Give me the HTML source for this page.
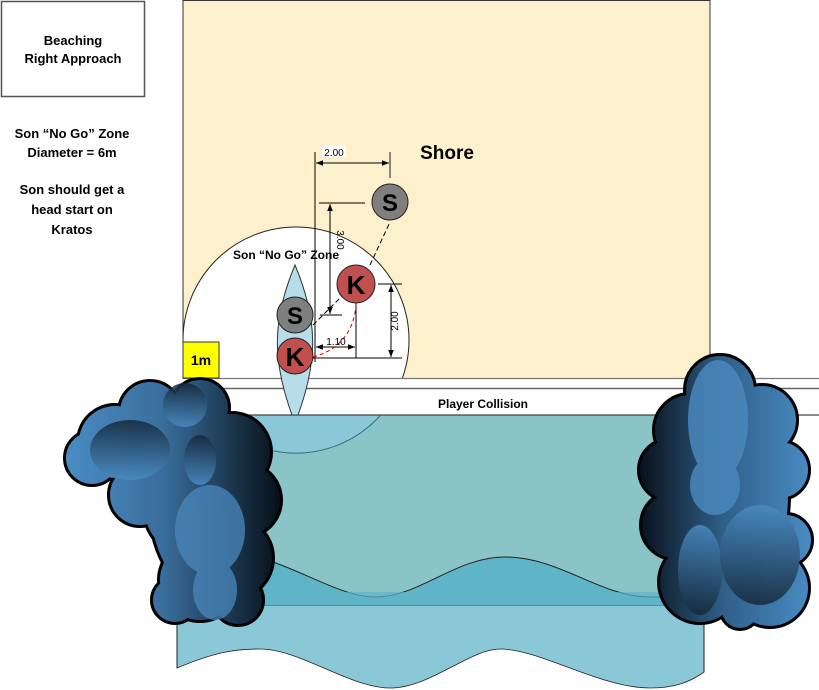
<!DOCTYPE html>
<html><head><meta charset="utf-8"><style>
html,body{margin:0;padding:0;background:#fff;width:819px;height:690px;overflow:hidden}
svg{display:block}
text{font-family:"Liberation Sans",sans-serif;font-weight:bold;fill:#000}
.n{font-weight:normal}
</style></head><body>
<svg width="819" height="690" viewBox="0 0 819 690" xmlns="http://www.w3.org/2000/svg">
<defs>
<linearGradient id="gl" gradientUnits="userSpaceOnUse" x1="65" y1="0" x2="282" y2="0"><stop offset="0" stop-color="#4a8cc4"/><stop offset="0.45" stop-color="#3a6e9c"/><stop offset="1" stop-color="#060e16"/></linearGradient>
<linearGradient id="gr" gradientUnits="userSpaceOnUse" x1="636" y1="0" x2="813" y2="0"><stop offset="0" stop-color="#060e16"/><stop offset="0.5" stop-color="#30608a"/><stop offset="1" stop-color="#4a8cc4"/></linearGradient>
<linearGradient id="gd" x1="0" y1="0" x2="0" y2="1"><stop offset="0" stop-color="#15283a"/><stop offset="1" stop-color="#4a8cc4"/></linearGradient>
<linearGradient id="gu" x1="0" y1="1" x2="0" y2="0"><stop offset="0" stop-color="#15283a"/><stop offset="1" stop-color="#4a8cc4"/></linearGradient>
<marker id="ar" viewBox="0 0 10 10" refX="10" refY="5" markerWidth="7" markerHeight="7" orient="auto-start-reverse"><path d="M0,1 L10,5 L0,9z" fill="#000"/></marker>
</defs>
<rect x="1.5" y="1.5" width="143" height="95" fill="#fff" stroke="#555" stroke-width="1.5"/>
<text x="73" y="45" font-size="13" text-anchor="middle">Beaching</text>
<text x="73" y="63" font-size="13" text-anchor="middle">Right Approach</text>
<text x="72" y="138" font-size="13" text-anchor="middle">Son “No Go” Zone</text>
<text x="72" y="157" font-size="13" text-anchor="middle">Diameter = 6m</text>
<text x="72" y="194" font-size="13" text-anchor="middle">Son should get a</text>
<text x="72" y="214" font-size="13" text-anchor="middle">head start on</text>
<text x="72" y="234" font-size="13" text-anchor="middle">Kratos</text>
<rect x="183" y="0.5" width="527" height="378" fill="#fdf0cc" stroke="#333" stroke-width="1"/>
<rect x="177" y="415" width="527" height="190" fill="#8ac4c6"/>
<path d="M177,605 L177,668 C215,652 235,649 260,649 C300,649 350,688 390,688 C430,688 470,649 500,649 C540,649 600,688 650,688 C675,688 690,682 704,672 L704,605 Z" fill="#8ac8d8" stroke="#222" stroke-width="0.8"/>
<path d="M177,540 L273,562 C310,575 345,597 375,597 C420,597 455,557 505,557 C560,557 600,597 650,597 L704,597 L704,605 L177,605 Z" fill="#5fb4c8"/>
<path d="M230,548 L273,562 C310,575 345,597 375,597 C420,597 455,557 505,557 C560,557 600,597 650,597 L704,597" fill="none" stroke="#222" stroke-width="1"/>
<rect x="177" y="592" width="527" height="13" fill="#5fb4c8" opacity="0.7"/>
<line x1="177" y1="605" x2="177" y2="668" stroke="#222"/>
<line x1="704" y1="605" x2="704" y2="672" stroke="#222"/>
<clipPath id="cc"><rect x="183" y="0" width="640" height="690"/></clipPath>
<circle cx="296" cy="340" r="113" fill="#fff" stroke="#222" stroke-width="1" clip-path="url(#cc)"/>
<clipPath id="cw"><rect x="183" y="415" width="300" height="60"/></clipPath>
<circle cx="296" cy="340" r="113" fill="#8ac8d8" stroke="#3a7080" stroke-width="0.8" clip-path="url(#cw)"/>
<rect x="183" y="378" width="636" height="37" fill="#fff"/>
<line x1="183" y1="378.5" x2="819" y2="378.5" stroke="#777" stroke-width="1.2"/>
<line x1="183" y1="388.5" x2="819" y2="388.5" stroke="#666" stroke-width="1.5"/>
<line x1="183" y1="415" x2="819" y2="415" stroke="#444" stroke-width="1.2"/>
<text x="483" y="408" font-size="12" text-anchor="middle">Player Collision</text>
<text x="286" y="259" font-size="12" text-anchor="middle">Son “No Go” Zone</text>
<text x="447" y="159" font-size="19" text-anchor="middle">Shore</text>
<rect x="183" y="342" width="36" height="36" fill="#ffff00" stroke="#333"/>
<text x="201" y="365" font-size="14" text-anchor="middle">1m</text>
<path d="M295,265 C318,320 318,360 298,415 L292,415 C272,360 272,320 295,265 Z" fill="#b7dde8" stroke="#333" stroke-width="1"/>
<g stroke="#000" stroke-width="1" fill="none">
<line x1="315" y1="152" x2="315" y2="362"/>
<line x1="390" y1="152" x2="390" y2="178" stroke="#666" stroke-width="1.5"/>
<line x1="316" y1="163" x2="389" y2="163" marker-start="url(#ar)" marker-end="url(#ar)"/>
<line x1="319" y1="203" x2="365" y2="203"/>
<line x1="320" y1="315" x2="342" y2="315"/>
<line x1="330" y1="204" x2="330" y2="314" marker-start="url(#ar)" marker-end="url(#ar)"/>
<line x1="378" y1="284" x2="402" y2="284"/>
<line x1="313" y1="358" x2="402" y2="358"/>
<line x1="391" y1="285" x2="391" y2="357" marker-start="url(#ar)" marker-end="url(#ar)"/>
<line x1="356" y1="303" x2="356" y2="358"/>
<line x1="316" y1="347" x2="355" y2="347" marker-start="url(#ar)" marker-end="url(#ar)"/>
<path d="M313,325 L360,278 M370,265 L390,222" stroke-dasharray="5,3"/>
<path d="M313,357 C340,350 355,330 356,303" stroke="#c00000" stroke-dasharray="4,3"/>
</g>
<rect x="322" y="146" width="24" height="11" fill="#fff"/>
<text x="334" y="156" font-size="10" class="n" text-anchor="middle">2.00</text>
<text x="336" y="345" font-size="10" class="n" text-anchor="middle">1.10</text>
<text transform="translate(337,240) rotate(90)" font-size="10" class="n" text-anchor="middle">3.00</text>
<text transform="translate(398,321) rotate(-90)" font-size="10" class="n" text-anchor="middle">2.00</text>
<g stroke="#222" stroke-width="1">
<circle cx="390" cy="202" r="18" fill="#7f7f7f"/>
<circle cx="356" cy="284" r="19" fill="#c0504d"/>
<circle cx="295" cy="315" r="18" fill="#7f7f7f"/>
<circle cx="295" cy="356" r="18" fill="#c0504d"/>
</g>
<text x="390" y="211" font-size="24" text-anchor="middle">S</text>
<text x="356" y="294" font-size="26" text-anchor="middle">K</text>
<text x="295" y="324" font-size="24" text-anchor="middle">S</text>
<text x="295" y="366" font-size="26" text-anchor="middle">K</text>
<g id="lt">
<circle cx="150" cy="412" r="30"/><circle cx="200" cy="408" r="28"/><circle cx="115" cy="442" r="36"/><circle cx="92" cy="458" r="26"/>
<circle cx="165" cy="452" r="40"/><circle cx="232" cy="452" r="38"/><circle cx="244" cy="500" r="36"/><circle cx="190" cy="510" r="45"/>
<circle cx="140" cy="495" r="30"/><circle cx="232" cy="558" r="40"/><circle cx="200" cy="580" r="40"/><circle cx="238" cy="600" r="24"/><circle cx="175" cy="600" r="22"/>
<ellipse cx="200" cy="500" rx="50" ry="90"/>
</g>
<use href="#lt" stroke="#000" stroke-width="6" fill="#000"/>
<use href="#lt" fill="url(#gl)"/>
<g fill="url(#gd)" opacity="0.85">
<ellipse cx="130" cy="450" rx="40" ry="30"/><ellipse cx="185" cy="405" rx="22" ry="22"/><ellipse cx="200" cy="460" rx="16" ry="25"/>
</g>
<g fill="#4a88bd" opacity="0.75"><ellipse cx="210" cy="530" rx="35" ry="45"/><ellipse cx="215" cy="590" rx="22" ry="30"/></g>
<g id="rt">
<circle cx="720" cy="390" r="34"/><circle cx="690" cy="430" r="35"/><circle cx="762" cy="420" r="34"/><circle cx="670" cy="470" r="30"/>
<circle cx="780" cy="470" r="28"/><circle cx="675" cy="525" r="33"/><circle cx="720" cy="500" r="50"/><circle cx="786" cy="540" r="25"/>
<circle cx="700" cy="582" r="40"/><circle cx="770" cy="588" r="38"/><circle cx="740" cy="610" r="18"/>
<ellipse cx="728" cy="495" rx="60" ry="105"/>
</g>
<use href="#rt" stroke="#000" stroke-width="6" fill="#000"/>
<use href="#rt" fill="url(#gr)"/>
<g fill="#4a88bd" opacity="0.85"><ellipse cx="718" cy="420" rx="30" ry="60"/><ellipse cx="715" cy="485" rx="25" ry="30"/></g>
<g fill="url(#gu)" opacity="0.85"><ellipse cx="700" cy="570" rx="22" ry="45"/><ellipse cx="760" cy="555" rx="40" ry="50"/></g>
</svg>
</body></html>
